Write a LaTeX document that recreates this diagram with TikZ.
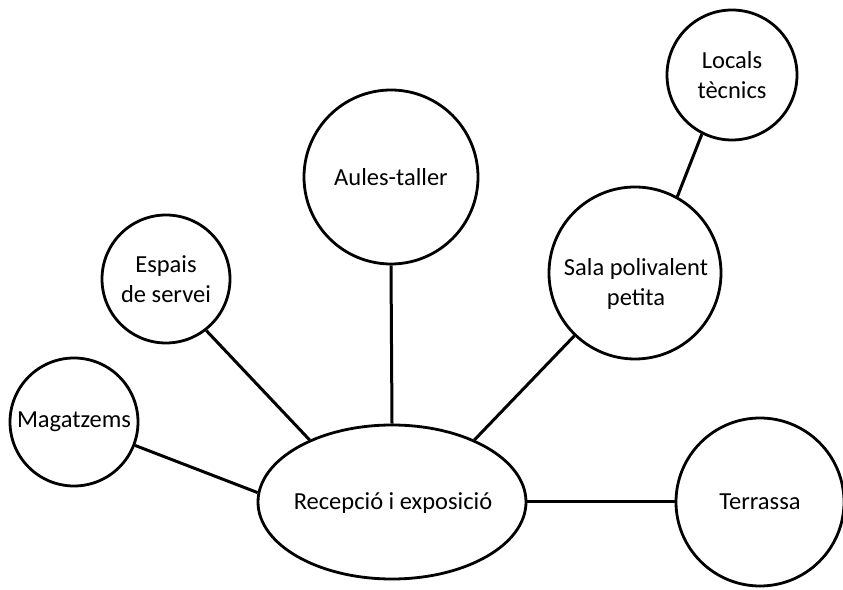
\documentclass[tikz,border=0pt]{standalone}
\usepackage{fontspec}
\setmainfont{Carlito}
\usetikzlibrary{shapes.geometric}
\begin{document}
\begin{tikzpicture}[x=1pt,y=1pt,
  room/.style={circle,draw=black,line width=2.8pt,inner sep=0pt,fill=white,
    font=\fontsize{24.5}{30}\selectfont,align=center},
  hub/.style={ellipse,draw=black,line width=2.8pt,inner sep=0pt,fill=white,
    minimum width=268pt,minimum height=154pt},
  link/.style={draw=black,line width=3pt},
  lbl/.style={font=\fontsize{24.5}{30}\selectfont,align=center,inner sep=0pt}]
\useasboundingbox (0,0) rectangle (843,589);
\fill[white] (0,0) rectangle (843,589);
\node[room,minimum size=130pt] (loc) at (732,514) {Locals\\tècnics};
\node[room,minimum size=174pt] (aul) at (391,412) {Aules-taller};
\node[room,minimum size=128pt] (esp) at (166,310) {Espais\\de servei};
\node[room,minimum size=172pt] (sal) at (635,316) {};
\node[lbl] (saltxt) at (636,305) {Sala polivalent\\petita};
\node[room,minimum size=128pt] (mag) at (74,167) {Magatzems};
\node[hub] (rec) at (392,87) {};
\node[lbl] (rectxt) at (393,86) {Recepció i exposició};
\node[room,minimum size=168pt] (ter) at (760,87) {Terrassa};
\draw[link] (mag.-21.6) -- (rec.176);
\draw[link] (esp.-52) -- (rec.143);
\draw[link] (aul.south) -- (rec.north);
\draw[link] (sal.-134) -- (rec.37);
\draw[link] (loc.-117) -- (sal.61);
\draw[link] (rec.east) -- (ter.west);
\end{tikzpicture}
\end{document}
